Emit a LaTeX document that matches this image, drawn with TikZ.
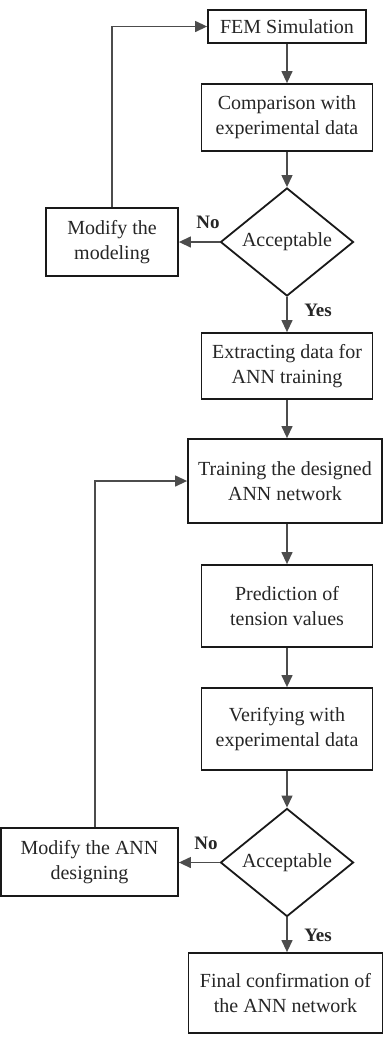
\documentclass[tikz,border=0pt]{standalone}
\usepackage{fontspec}
\setmainfont{Liberation Serif}
\usetikzlibrary{shapes.geometric,arrows.meta}
\begin{document}
\begin{tikzpicture}[x=1pt,y=-1pt,
  box/.style={draw=black!90,line width=1.8pt,align=center,inner sep=0pt,font=\fontsize{20}{25}\selectfont,text=black!85},
  dec/.style={draw=black!90,line width=1.8pt,diamond,inner sep=0pt,minimum width=133pt,minimum height=98pt,font=\fontsize{20}{25}\selectfont,text=black!85},
  conn/.style={draw=black!70,line width=1.3pt,-{Triangle[length=12pt,width=11pt]}},
  lbl/.style={font=\bfseries\fontsize{19}{22}\selectfont,text=black!85,inner sep=0pt}]
\useasboundingbox (0,0) rectangle (383,1037);
\fill[white] (0,0) rectangle (383,1037);
% nodes
\node[box,minimum width=158pt,minimum height=33pt] (fem) at (287,26.5) {FEM Simulation};
\node[box,minimum width=171pt,minimum height=67pt] (comp) at (287,117.5) {Comparison with\\experimental data};
\node[dec] (acc1) at (287,242) {Acceptable};
\node[box,minimum width=132pt,minimum height=68pt] (mod1) at (112,242) {Modify the\\modeling};
\node[box,minimum width=171pt,minimum height=66pt] (ext) at (287,366) {Extracting data for\\ANN training};
\node[box,minimum width=194pt,minimum height=84pt] (train) at (285,481) {Training the designed\\ANN network};
\node[box,minimum width=171pt,minimum height=82pt] (pred) at (287,606) {Prediction of\\tension values};
\node[box,minimum width=171pt,minimum height=82pt] (ver) at (287,729) {Verifying with\\experimental data};
\node[dec,minimum height=99pt] (acc2) at (287,862.5) {Acceptable};
\node[box,minimum width=177pt,minimum height=68pt] (mod2) at (89.5,862) {Modify the ANN\\designing};
\node[box,minimum width=194pt,minimum height=80pt] (fin) at (285.5,993) {Final confirmation of\\the ANN network};
% connectors
\draw[conn] (fem.south) -- (fem.south |- comp.north);
\draw[conn] (comp.south) -- (acc1.north);
\draw[conn] (acc1.west) -- (mod1.east);
\draw[conn] (acc1.south) -- (acc1.south |- ext.north);
\draw[conn] (mod1.north) -- (mod1.north |- fem.west) -- (fem.west);
\draw[conn] (ext.south) -- (ext.south |- train.north);
\draw[conn] (ext.south |- train.south) -- (ext.south |- pred.north);
\draw[conn] (pred.south) -- (ver.north);
\draw[conn] (ver.south) -- (acc2.north);
\draw[conn] (acc2.west) -- (acc2.west -| mod2.east);
\draw[conn] (acc2.south) -- (acc2.south |- fin.north);
\coordinate (l2) at (95,0);
\draw[conn] (l2 |- mod2.north) -- (l2 |- train.west) -- (train.west);
% labels
\node[lbl] (no1) at (208,222) {No};
\node[lbl] (yes1) at (318,310) {Yes};
\node[lbl] (no2) at (206,843) {No};
\node[lbl] (yes2) at (318,935) {Yes};
\end{tikzpicture}
\end{document}
